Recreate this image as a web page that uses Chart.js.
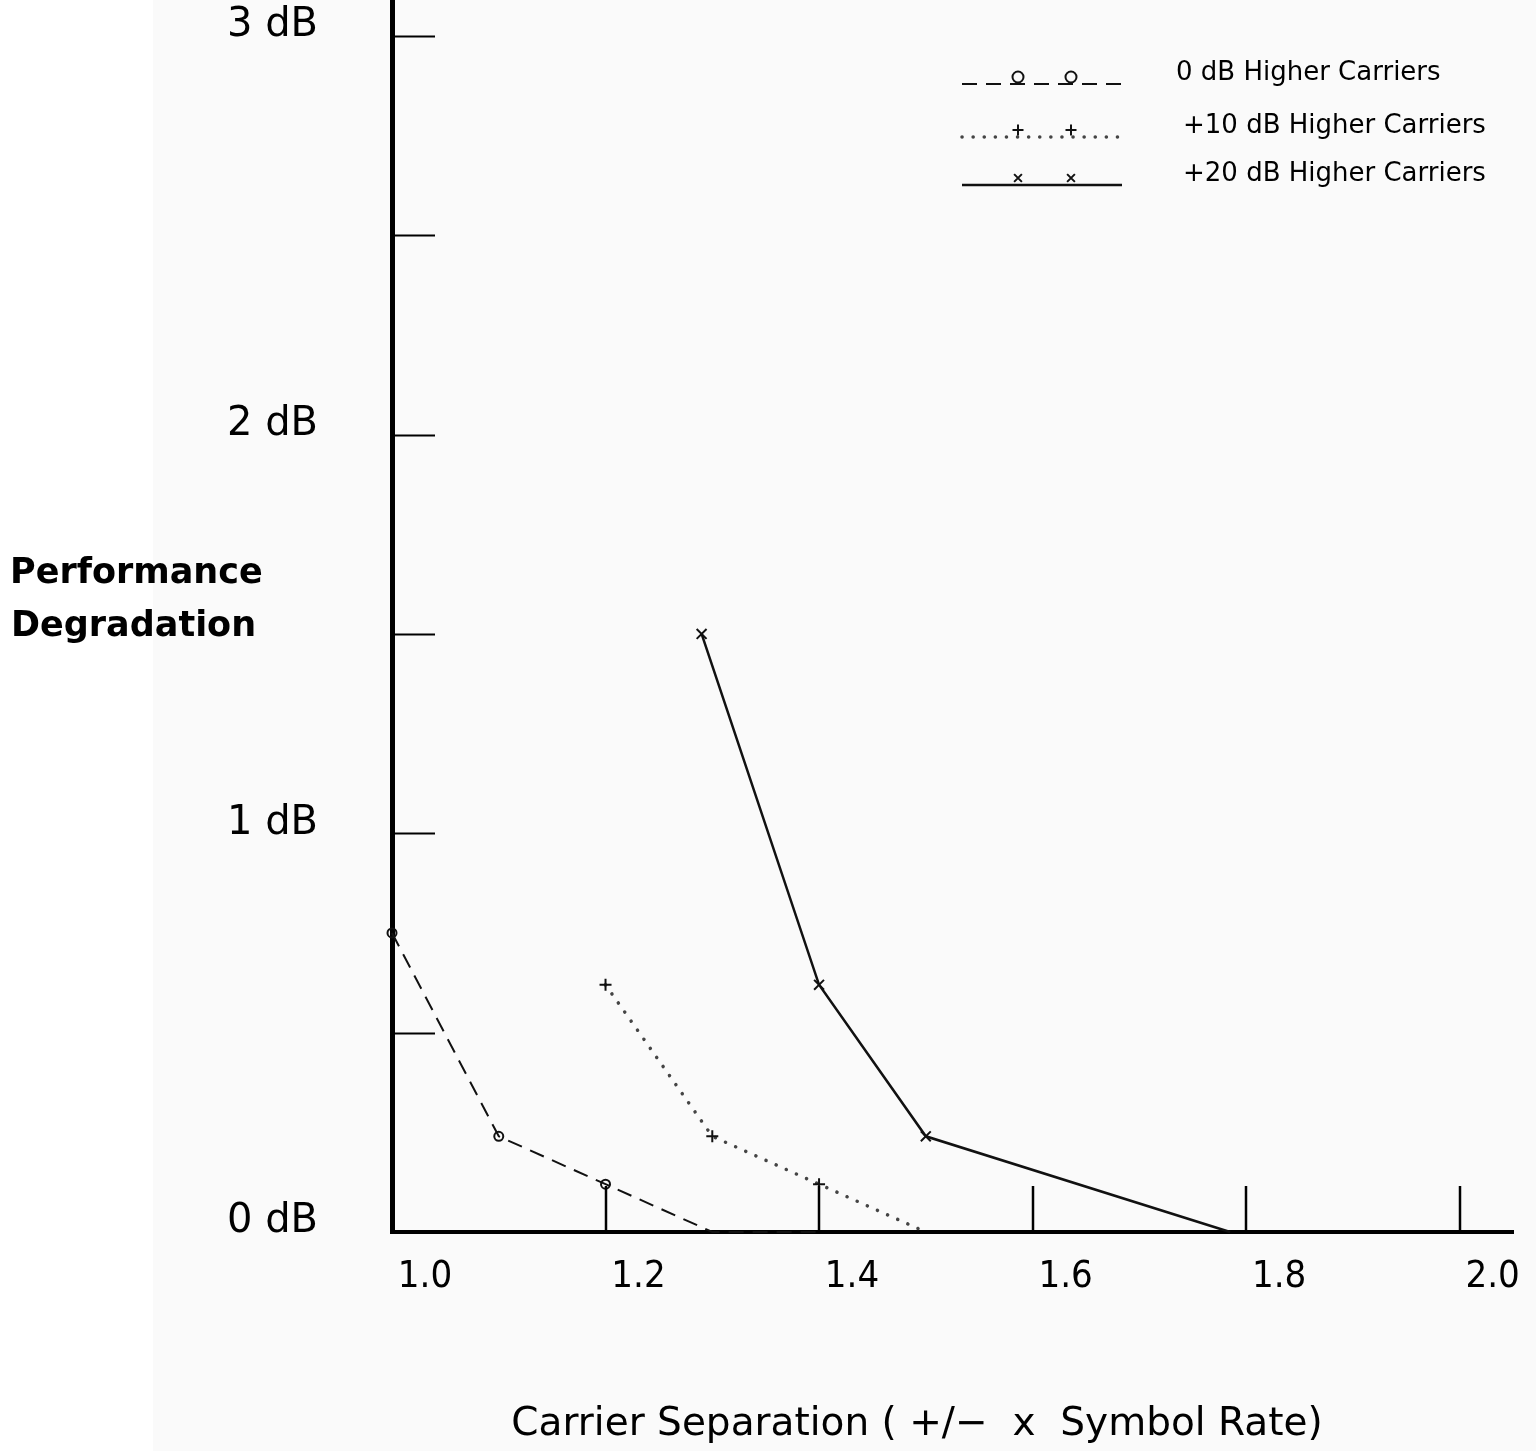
<!DOCTYPE html>
<html>
<head>
<meta charset="utf-8">
<title>Performance Degradation vs Carrier Separation</title>
<script src="https://cdn.jsdelivr.net/npm/chart.js@4.4.0/dist/chart.umd.min.js"></script>
<style>
  html, body { margin: 0; padding: 0; background: #ffffff; }
  #wrap { position: relative; width: 1536px; height: 1451px; }
</style>
</head>
<body>
<div id="wrap"><canvas id="chart"></canvas></div>
<script>
// --- Values ---
const xTicks = [1.0, 1.2, 1.4, 1.6, 1.8, 2.0];
const yTicks = [0, 0.5, 1, 1.5, 2, 2.5, 3];

// 0 dB higher carriers (dashed, o)
const sepZero = [1.0, 1.1, 1.2, 1.3, 1.4];
const degZero = [0.75, 0.24, 0.12, 0, 0];
// +10 dB higher carriers (dotted, +)
const sepTen = [1.2, 1.3, 1.4, 1.5];
const degTen = [0.62, 0.24, 0.12, 0];
// +20 dB higher carriers (solid, x)
const sepTwenty = [1.29, 1.4, 1.5, 1.785];
const degTwenty = [1.5, 0.62, 0.24, 0];

const seriesLabels = ['0 dB Higher Carriers', '+10 dB Higher Carriers', '+20 dB Higher Carriers'];
const yAxisTitle = ['Performance', 'Degradation'];
const xAxisTitle = 'Carrier Separation ( +/\u2212  x  Symbol Rate)';

// --- Helpers ---
function toPoints(xs, ys) {
  return xs.map((x, i) => ({ x: x, y: ys[i] }));
}
// markers sitting on the axis are not visible in the original
function markerSize(r) {
  return ctx => (ctx.raw && ctx.raw.y === 0 ? 0 : r);
}

// --- Paper background: white margin, faint grey page ---
const paperPlugin = {
  id: 'paper',
  beforeDraw(chart) {
    const c = chart.ctx;
    c.save();
    c.fillStyle = '#ffffff';
    c.fillRect(0, 0, chart.width, chart.height);
    c.fillStyle = '#fafafa';
    c.fillRect(153, 0, chart.width - 153, chart.height);
    c.restore();
  }
};

// --- Inner tick marks, axis titles and legend ---
const marksPlugin = {
  id: 'marks',
  afterDraw(chart) {
    const c = chart.ctx;
    const xs = chart.scales.x, ys = chart.scales.y;
    const area = chart.chartArea;
    c.save();
    c.strokeStyle = '#000';

    // ticks pointing into the plot
    c.lineWidth = 2;
    yTicks.filter(v => v > 0).forEach(v => {
      const py = Math.round(ys.getPixelForValue(v)) + 0.5;
      c.beginPath();
      c.moveTo(area.left, py);
      c.lineTo(area.left + 43, py);
      c.stroke();
    });
    c.lineWidth = 2.5;
    xTicks.filter(v => v > 1.0).forEach(v => {
      const px = Math.round(xs.getPixelForValue(v));
      c.beginPath();
      c.moveTo(px, area.bottom);
      c.lineTo(px, area.bottom - 46);
      c.stroke();
    });

    // axis titles
    c.fillStyle = '#000';
    c.textBaseline = 'middle';
    c.textAlign = 'left';
    c.font = 'bold 35px "DejaVu Sans", sans-serif';
    c.fillText(yAxisTitle[0], 10, 574);
    c.fillText(yAxisTitle[1], 11, 627);

    c.textAlign = 'center';
    c.font = '39px "DejaVu Sans", sans-serif';
    c.fillText(xAxisTitle, 917, 1425);

    // legend, drawn with each dataset's own line and marker style
    const rowY = [84, 137, 185];
    const textX = [1176, 1183, 1183];
    c.font = '26px "DejaVu Sans", sans-serif';
    chart.data.datasets.forEach((ds, i) => {
      c.save();
      c.strokeStyle = ds.borderColor;
      c.lineWidth = ds.borderWidth;
      c.lineCap = ds.borderCapStyle || 'butt';
      c.setLineDash(ds.borderDash || []);
      c.beginPath();
      c.moveTo(962, rowY[i]);
      c.lineTo(1122, rowY[i]);
      c.stroke();
      c.setLineDash([]);
      c.lineCap = 'butt';
      c.strokeStyle = ds.pointBorderColor;
      c.fillStyle = 'rgba(0,0,0,0)';
      c.lineWidth = ds.pointBorderWidth;
      [1018, 1071].forEach(mx => {
        Chart.helpers.drawPoint(c, {
          pointStyle: ds.pointStyle, radius: 5.5, rotation: 0, borderWidth: ds.pointBorderWidth
        }, mx, rowY[i] - 7);
      });
      c.restore();
      c.fillStyle = '#000';
      c.textAlign = 'left';
      c.fillText(ds.label, textX[i], rowY[i] - 11);
    });
    c.restore();
  }
};

// --- Chart ---
const ctx = document.getElementById('chart').getContext('2d');
const chart = new Chart(ctx, {
  type: 'line',
  data: {
    datasets: [
      {
        label: seriesLabels[0],
        data: toPoints(sepZero, degZero),
        borderColor: '#111',
        borderWidth: 2,
        borderDash: [15, 9],
        pointStyle: 'circle',
        pointRadius: markerSize(4.5),
        pointBorderColor: '#111',
        pointBackgroundColor: 'rgba(0,0,0,0)',
        pointBorderWidth: 2,
        tension: 0,
        clip: false
      },
      {
        label: seriesLabels[1],
        data: toPoints(sepTen, degTen),
        borderColor: '#444',
        borderWidth: 3.5,
        borderDash: [0.1, 11],
        borderCapStyle: 'round',
        pointStyle: 'cross',
        pointRadius: markerSize(6),
        pointBorderColor: '#111',
        pointBackgroundColor: 'rgba(0,0,0,0)',
        pointBorderWidth: 2,
        tension: 0,
        clip: false
      },
      {
        label: seriesLabels[2],
        data: toPoints(sepTwenty, degTwenty),
        borderColor: '#111',
        borderWidth: 2.5,
        pointStyle: 'crossRot',
        pointRadius: markerSize(7),
        pointBorderColor: '#111',
        pointBackgroundColor: 'rgba(0,0,0,0)',
        pointBorderWidth: 2,
        tension: 0,
        clip: false
      }
    ]
  },
  options: {
    responsive: true,
    maintainAspectRatio: false,
    animation: false,
    layout: { autoPadding: false, padding: { top: 0, right: 23, bottom: 0, left: 0 } },
    plugins: {
      legend: { display: false },
      tooltip: { enabled: false }
    },
    scales: {
      x: {
        type: 'linear',
        min: 1.0,
        max: 2.05,
        afterBuildTicks: scale => { scale.ticks = xTicks.map(v => ({ value: v })); },
        afterFit: scale => { scale.height = 219; scale.paddingLeft = 0; scale.paddingRight = 0; },
        grid: { display: false, drawTicks: false },
        border: { display: true, color: '#000', width: 4 },
        ticks: {
          padding: 22,
          labelOffset: 33,
          autoSkip: false,
          maxRotation: 0,
          color: '#000',
          font: { family: '"DejaVu Sans Condensed", "DejaVu Sans", sans-serif', size: 38 },
          callback: v => Number(v).toFixed(1)
        }
      },
      y: {
        type: 'linear',
        min: 0,
        max: 3.09,
        afterBuildTicks: scale => { scale.ticks = yTicks.map(v => ({ value: v })); },
        afterFit: scale => { scale.width = 392; scale.paddingTop = 0; scale.paddingBottom = 0; },
        grid: { display: false, drawTicks: false },
        border: { display: true, color: '#000', width: 5 },
        ticks: {
          padding: 74,
          labelOffset: -10,
          color: '#000',
          font: { family: '"DejaVu Sans", sans-serif', size: 40 },
          callback: v => (Number.isInteger(v) ? v + ' dB' : '')
        }
      }
    }
  },
  plugins: [paperPlugin, marksPlugin]
});
</script>
</body>
</html>
